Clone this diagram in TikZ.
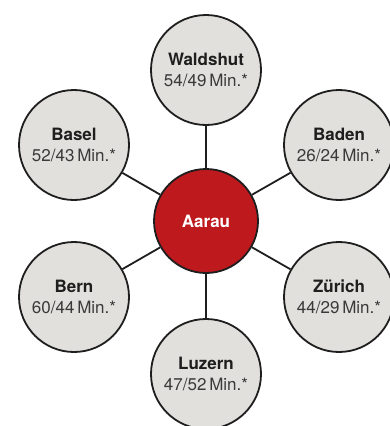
\documentclass[tikz,border=0pt]{standalone}
\usepackage{fontspec}
\setmainfont{TeX Gyre Heros}
\definecolor{townfill}{HTML}{E1E0DC}
\definecolor{hubred}{HTML}{BE1A1E}
\definecolor{inkdark}{HTML}{1E1E1E}
\definecolor{inkgrey}{HTML}{3A3A3A}

\begin{document}
\begin{tikzpicture}[x=1pt, y=-1pt,
    town/.style={circle, fill=townfill, draw=inkdark, line width=1.8pt, minimum size=110pt, inner sep=0pt, align=center, text=inkdark, font=\fontsize{17}{21}\selectfont},
    hub/.style={circle, fill=hubred, draw=inkdark, line width=1.8pt, minimum size=104pt, inner sep=0pt, text=white, font=\fontsize{17}{21}\selectfont\bfseries}]
        \useasboundingbox (0,0) rectangle (390,426);
        \clip (0,0) rectangle (390,426);

        \node[hub] (aarau) at (206,221) {Aarau};

        \node[town] (waldshut) at (206,70) {\textbf{Waldshut}\\{\color{inkgrey}54/49\,Min.*}};
        \node[town] (baden) at (339,145) {\textbf{Baden}\\{\color{inkgrey}26/24\,Min.*}};
        \node[town] (zuerich) at (339,297) {\textbf{Zürich}\\{\color{inkgrey}44/29\,Min.*}};
        \node[town] (luzern) at (206,374) {\textbf{Luzern}\\{\color{inkgrey}47/52\,Min.*}};
        \node[town] (bern) at (74,297) {\textbf{Bern}\\{\color{inkgrey}60/44\,Min.*}};
        \node[town] (basel) at (74,145) {\textbf{Basel}\\{\color{inkgrey}52/43\,Min.*}};

        \path[draw=inkdark, line width=1.8pt]
        (aarau) edge (waldshut)
        (aarau) edge (baden)
        (aarau) edge (zuerich)
        (aarau) edge (luzern)
        (aarau) edge (bern)
        (aarau) edge (basel);
    \end{tikzpicture}
\end{document}
